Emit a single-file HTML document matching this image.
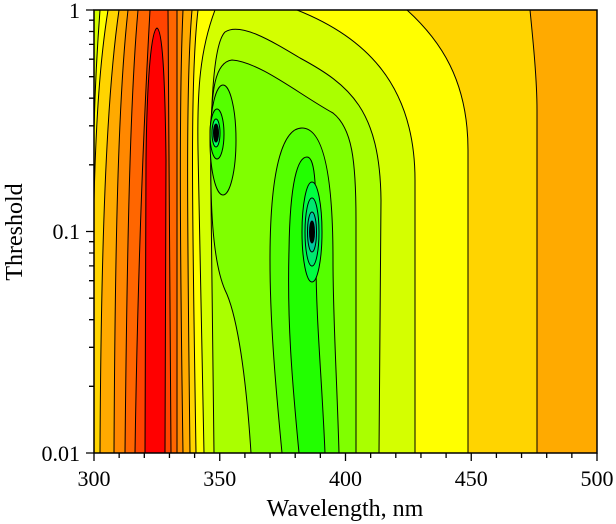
<!DOCTYPE html>
<html><head><style>body{margin:0;background:#fff}svg{display:block}</style></head><body>
<svg width="616" height="524" viewBox="0 0 616 524" xmlns="http://www.w3.org/2000/svg">
<defs><clipPath id="c"><rect x="94" y="10" width="503" height="443"/></clipPath></defs>
<g clip-path="url(#c)" stroke="#000" stroke-width="1">
<rect x="94" y="10" width="503" height="443" fill="#FFAA00" stroke="none"/>
<path d="M530,10 C533,40 537,80 537,110 L537,453 L94,453 L94,10Z" fill="#FFD400"/>
<path d="M407,10 C440,40 468,80 468,150 L468,453 L94,453 L94,10Z" fill="#FFFF00"/>
<path d="M297,10 C360,35 415,80 415,180 L415,453 L94,453 L94,10Z" fill="#D4FF00"/>
<path d="M215,10 C200,50 197,90 198,150 L204,453 L94,453 L94,10Z" fill="#FFFF00"/>
<path d="M198,10 C190,80 192,200 196,453 L94,453 L94,10Z" fill="#FFD400"/>
<path d="M192,10 C186,80 187,200 190,453 L94,453 L94,10Z" fill="#FFAA00"/>
<path d="M183,10 C179,100 180,250 183,453 L94,453 L94,10Z" fill="#FF8800"/>
<path d="M177,10 L177,453 L94,453 L94,10Z" fill="#FF6600"/>
<path d="M168,10 L171,453 L94,453 L94,10Z" fill="#FF4400"/>
<path d="M145,453 L146,160 C147,70 152,30 157,28 C162,30 165,70 166,160 L165,453Z" fill="#FF0000"/>
<path d="M150,10 C145,100 138,250 135,453 L94,453 L94,10Z" fill="#FF6600"/>
<path d="M138,10 C130,100 127,250 125,453 L94,453 L94,10Z" fill="#FF8800"/>
<path d="M128,10 C118,100 115,250 114,453 L94,453 L94,10Z" fill="#FFAA00"/>
<path d="M119,10 C106,100 101,250 100,453 L94,453 L94,10Z" fill="#FFD400"/>
<path d="M108,10 C100,60 96,120 94,200 L94,10Z" fill="#FFFF00"/>
<path d="M100,10 C97,50 95,90 94,130 L94,10Z" fill="#D4FF00"/>
<path d="M214,453 L211,200 C210,120 212,45 225,32 C240,22 270,40 300,58 C350,85 380,110 381,200 L379,453Z" fill="#AAFF00"/>
<path d="M251,453 C245,360 235,310 225,290 C212,260 210,200 211,140 C211,90 215,62 232,60 C260,62 300,95 333,113 C352,128 356,160 356,220 L356,453Z" fill="#80FF00"/>
<path d="M282,453 C275,380 270,320 270,260 C270,160 285,128 302,128 C322,128 333,170 333,260 C333,320 337,380 339,453Z" fill="#55FF00"/>
<path d="M299,453 C292,380 287,320 289,250 C290,180 298,157 307,157 C317,157 316,200 316,260 C316,320 322,380 325,453Z" fill="#22FF00"/>
<ellipse cx="312" cy="232" rx="10" ry="50" fill="#00FF40"/>
<ellipse cx="312" cy="232" rx="7" ry="34" fill="#00E870"/>
<ellipse cx="312" cy="232" rx="4.5" ry="20" fill="#00C8A0"/>
<ellipse cx="312" cy="232" rx="2.5" ry="11" fill="#000"/>
<ellipse cx="223" cy="140" rx="13" ry="55" fill="#55FF00"/>
<ellipse cx="217" cy="134" rx="7" ry="25" fill="#22FF00"/>
<ellipse cx="216" cy="133" rx="4" ry="14" fill="#00FF60"/>
<ellipse cx="216" cy="133" rx="2.5" ry="9" fill="#000"/>
</g>
<rect x="94" y="10" width="503" height="443" fill="none" stroke="#000" stroke-width="1.5"/>
<g stroke="#000" stroke-width="1.3">
<path d="M94,453v8M219.75,453v8M345.5,453v8M471.25,453v8M597,453v8"/>
<path d="M119.15,453v5M144.3,453v5M169.45,453v5M194.6,453v5M244.9,453v5M270.05,453v5M295.2,453v5M320.35,453v5M370.65,453v5M395.8,453v5M420.95,453v5M446.1,453v5M496.4,453v5M521.55,453v5M546.7,453v5M571.85,453v5"/>
<path d="M94,10h-8M94,231.5h-8M94,453h-8"/>
<path d="M94,386.3h-5M94,347.3h-5M94,319.7h-5M94,298.2h-5M94,280.7h-5M94,265.9h-5M94,253.0h-5M94,241.7h-5M94,164.8h-5M94,125.8h-5M94,98.2h-5M94,76.7h-5M94,59.2h-5M94,44.4h-5M94,31.5h-5M94,20.2h-5"/>
</g>
<g font-family="Liberation Serif, serif" font-size="22" fill="#000">
<text x="94" y="486" text-anchor="middle">300</text>
<text x="219.75" y="486" text-anchor="middle">350</text>
<text x="345.5" y="486" text-anchor="middle">400</text>
<text x="471.25" y="486" text-anchor="middle">450</text>
<text x="597" y="486" text-anchor="middle">500</text>
<text x="80" y="18" text-anchor="end">1</text>
<text x="80" y="239" text-anchor="end">0.1</text>
<text x="80" y="461" text-anchor="end">0.01</text>
<text x="345" y="516" text-anchor="middle" font-size="24">Wavelength, nm</text>
<text transform="translate(22,232) rotate(-90)" text-anchor="middle" font-size="24">Threshold</text>
</g>
</svg>
</body></html>
